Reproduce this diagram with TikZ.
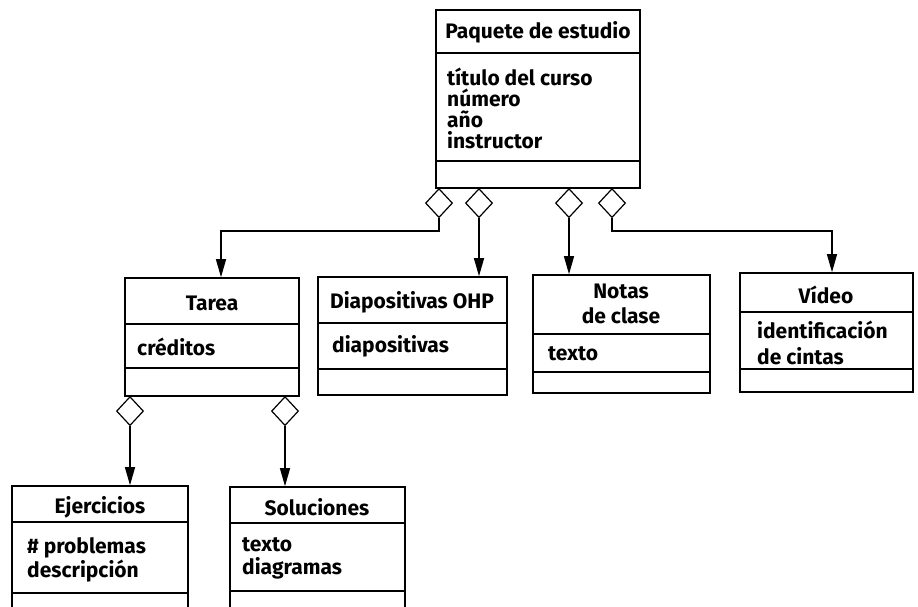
\documentclass[tikz,border=0pt]{standalone}
\usepackage{fontspec}
\setmainfont{Fira Sans}
\usetikzlibrary{arrows.meta,positioning,shapes.geometric}
\tikzset{
  >={Triangle[length=18pt,width=10pt]},
  clsbox/.style={draw,line width=1.6pt,inner sep=0pt},
  sep/.style={line width=1.2pt},
  agg/.style={diamond,draw,fill=white,line width=1.2pt,inner sep=0pt,
    minimum width=27pt,minimum height=29pt,anchor=north},
  conn/.style={->,line width=1.3pt},
  ttl/.style={font=\fontsize{21}{#1}\selectfont\bfseries,align=center,inner sep=0pt},
  ttl/.default=25,
  attr/.style={font=\fontsize{21}{#1}\selectfont\bfseries,align=left,anchor=west,inner sep=0pt},
  attr/.default=21,
}
\begin{document}
\begin{tikzpicture}[x=1pt,y=-1pt]
  \useasboundingbox (0,0) rectangle (918,607);
  % class boxes: name/left/right/top/div1/div2/bottom
  \foreach \n/\xa/\xb/\ya/\yb/\yc/\yd in {pkg/436/640/10/53/161/188,
      tarea/125/299/278/324/368/396, ohp/318/507/277/323/369/395,
      notas/533/710/275/334/372/393, video/740/913/273/312/369/392,
      ejer/12/188/486/522/593/620, sol/230/405/487/523/591/620}{
    \node[clsbox,minimum width={\xb pt-\xa pt},minimum height={\yd pt-\ya pt}]
      (\n) at ({(\xa+\xb)/2},{(\ya+\yd)/2}) {};
    \draw[sep] (\xa,\yb) -- (\xb,\yb);
    \draw[sep] (\xa,\yc) -- (\xb,\yc);
  }
  % titles
  \node[ttl] (pkg-t) at (538,32) {Paquete de estudio};
  \node[ttl] (tarea-t) at (212,303) {Tarea};
  \node[ttl] (ohp-t) at (412,302) {Diapositivas OHP};
  \node[ttl] (notas-t) at (621,304) {Notas\\de clase};
  \node[ttl] (video-t) at (826,295) {Vídeo};
  \node[ttl] (ejer-t) at (100,507) {Ejercicios};
  \node[ttl] (sol-t) at (317,507) {Soluciones};
  % attributes
  \node[attr] (pkg-a) at (447,108) {título del curso\\número\\año\\instructor};
  \node[attr] (tarea-a) at (137,347) {créditos};
  \node[attr] (ohp-a) at (332,346) {diapositivas};
  \node[attr] (notas-a) at (548,354) {texto};
  \node[attr=26] (video-a) at (757,343) {identificación\\de cintas};
  \node[attr=24] (ejer-a) at (27,560) {\# problemas\\descripción};
  \node[attr=23] (sol-a) at (242,558) {texto\\diagramas};
  % aggregation diamonds
  \node[agg] (d1) at (439,188) {};
  \node[agg] (d2) at (479,188) {};
  \node[agg] (d3) at (569,188) {};
  \node[agg] (d4) at (612,188) {};
  \node[agg] (t1) at (130,396) {};
  \node[agg] (t2) at (285,396) {};
  % connectors
  \coordinate (k1) at (221,231);
  \coordinate (k4) at (832,231);
  \draw[conn] (d1.south) |- (k1) -- (k1 |- tarea.north);
  \draw[conn] (d2.south) -- (d2.south |- ohp.north);
  \draw[conn] (d3.south) -- (d3.south |- notas.north);
  \draw[conn] (d4.south) |- (k4) -- (k4 |- video.north);
  \draw[conn] (t1.south) -- (t1.south |- ejer.north);
  \draw[conn] (t2.south) -- (t2.south |- sol.north);
\end{tikzpicture}
\end{document}
